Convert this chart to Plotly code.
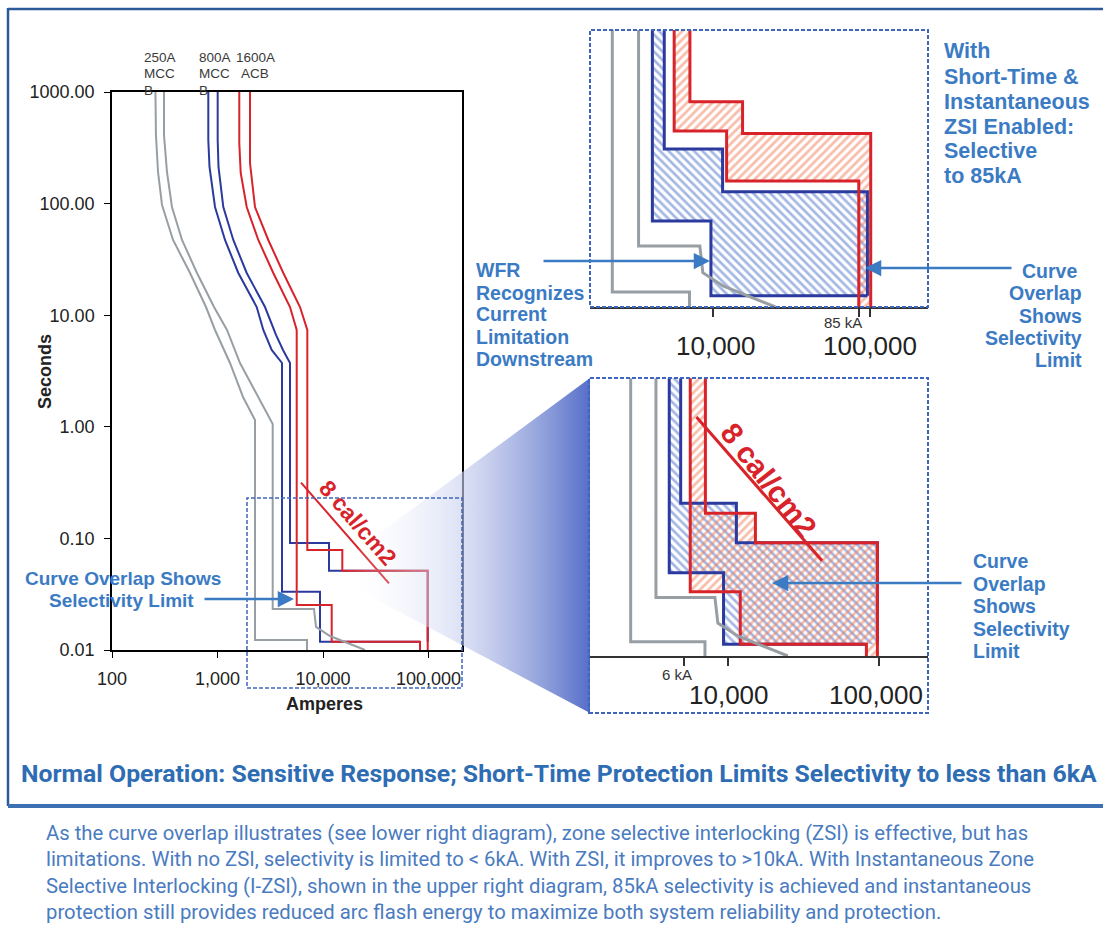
import math
import plotly.graph_objects as go

W, H = 1103, 941


def X(px):
    return px / W


def Y(py):
    return 1 - py / H


# ---------------- data: normal operation (main chart & lower inset) ----------------
g1_amps = [258, 261, 273, 298, 379, 549, 778, 947, 1314, 1745, 2267, 2267, 7053, 7053]
g1_secs = [1000, 412, 192, 97.2, 47.2, 23.9, 11.84, 7.37, 3.73, 1.85, 1.15, 0.0123, 0.0123, 0.01]
g2_amps = [311, 311, 332, 370, 461, 639, 927, 1230, 1634, 2420, 3336, 3336, 8215, 8585, 11650, 16160, 25010]
g2_secs = [1000, 412, 192, 93.2, 47.2, 23.9, 11.84, 7.37, 3.73, 1.85, 1.06, 0.0233, 0.0233, 0.0161, 0.01335, 0.0118, 0.01]
b1_amps = [818, 818, 840, 947, 1178, 1575, 2353, 2718, 3263, 4087, 4087, 9367, 9367, 83060]
b1_secs = [1000, 371.5, 213, 93.2, 47.2, 23.9, 11.84, 7.37, 4.88, 3.73, 0.0333, 0.0333, 0.01187, 0.01187]
b2_amps = [1004, 1004, 1022, 1135, 1412, 1892, 2820, 3585, 4177, 4867, 4867, 11400, 11400, 98260, 98260]
b2_secs = [1000, 371.5, 213, 93.2, 47.2, 23.9, 11.84, 6.65, 4.88, 3.73, 0.091, 0.091, 0.0513, 0.0513, 0.01187]
r1_amps = [1609, 1609, 1659, 1892, 2436, 3380, 4867, 5632, 5632, 12090, 12090, 83060, 83060]
r1_secs = [1000, 349, 188, 93.2, 47.2, 23.9, 11.84, 7.37, 0.0253, 0.0253, 0.01187, 0.01187, 0.01]
r2_amps = [2033, 2033, 2267, 3030, 4205, 6053, 7100, 7100, 15240, 15240, 98260, 98260]
r2_secs = [1000, 231, 93.2, 47.2, 23.9, 11.84, 7.37, 0.0787, 0.0787, 0.0513, 0.0513, 0.01]

# 8 cal/cm2 arc-flash boundary
cal_amps = [6190, 42200]
cal_secs = [0.316, 0.0396]

# ---------------- data: short-time & instantaneous ZSI enabled (upper inset) ----------------
b1z_amps = [4087, 4087, 9670, 9670, 96600]
b1z_secs = [3.73, 0.033, 0.033, 0.0117, 0.0117]
b2z_amps = [4867, 4867, 11480, 11480, 96600, 96600]
b2z_secs = [3.73, 0.0895, 0.0895, 0.0495, 0.0495, 0.0117]
r1z_amps = [5632, 5632, 12180, 12180, 85100, 85100]
r1z_secs = [7.37, 0.115, 0.115, 0.0574, 0.0574, 0.01]
r2z_amps = [7100, 7100, 15400, 15400, 101400, 101400]
r2z_secs = [7.37, 0.1725, 0.1725, 0.111, 0.111, 0.01]

# ---------------- ticks ----------------
x_ticks = [100, 1000, 10000, 100000]
x_tick_text = ["100", "1,000", "10,000", "100,000"]
y_ticks = [0.01, 0.1, 1, 10, 100, 1000]
y_tick_text = ["0.01", "0.10", "1.00", "10.00", "100.00", "1000.00"]
top_ticks = [10000, 85000, 100000]
low_ticks = [5150, 10000, 100000]

device_labels = ["250A", "MCC", "B", "800A", "MCC", "B", "1600A", "ACB"]

body_lines = [
    "As the curve overlap illustrates (see lower right diagram), zone selective interlocking (ZSI) is effective, but has",
    "limitations. With no ZSI, selectivity is limited to &lt; 6kA. With ZSI, it improves to &gt;10kA. With Instantaneous Zone",
    "Selective Interlocking (I-ZSI), shown in the upper right diagram, 85kA selectivity is achieved and instantaneous",
    "protection still provides reduced arc flash energy to maximize both system reliability and protection.",
]
title_text = "Normal Operation: Sensitive Response; Short-Time Protection Limits Selectivity to less than 6kA"

# ---------------- styles ----------------
GRAY = "#989fa4"
BLUE = "#2b3a9f"
RED = "#d8232a"
HATCH_B = "#4a6fca"
HATCH_R = "#f27a52"
TXT_BLUE = "#3b7bc4"
FONT = "Liberation Sans, Arial, sans-serif"

fig = go.Figure()


def add_line(xs, ys, color, width, ax):
    fig.add_trace(go.Scatter(
        x=xs, y=ys, mode="lines", line=dict(color=color, width=width),
        xaxis="x" + ax, yaxis="y" + ax, showlegend=False, hoverinfo="skip"))


def add_band(x1, y1, x2, y2, shape, color, ax, size=6):
    fig.add_trace(go.Scatter(
        x=list(x1) + list(x2)[::-1], y=list(y1) + list(y2)[::-1],
        mode="lines", line=dict(width=0, color="rgba(0,0,0,0)"), fill="toself",
        fillcolor="rgba(0,0,0,0)",
        fillpattern=dict(shape=shape, fgcolor=color, bgcolor="rgba(0,0,0,0)", size=size, solidity=0.45),
        xaxis="x" + ax, yaxis="y" + ax, showlegend=False, hoverinfo="skip"))


# ---- main chart (x / y) ----
add_line(b1_amps, b1_secs, BLUE, 2, "")
add_line(b2_amps, b2_secs, BLUE, 2, "")
add_line(r1_amps, r1_secs, RED, 2, "")
add_line(r2_amps, r2_secs, RED, 2, "")
add_line(g1_amps, g1_secs, GRAY, 2, "")
add_line(g2_amps, g2_secs, GRAY, 2, "")
add_line(cal_amps, cal_secs, RED, 2, "")

# ---- upper inset (x2 / y2): ZSI enabled ----
add_band(b1z_amps, b1z_secs, b2z_amps, b2z_secs, "\\", HATCH_B, "2")
add_band(r1z_amps, r1z_secs, r2z_amps, r2z_secs, "/", HATCH_R, "2")
add_line(b1z_amps, b1z_secs, BLUE, 3, "2")
add_line(b2z_amps, b2z_secs, BLUE, 3, "2")
add_line(r1z_amps, r1z_secs, RED, 3, "2")
add_line(r2z_amps, r2z_secs, RED, 3, "2")
add_line(g1_amps, g1_secs, GRAY, 3, "2")
add_line(g2_amps, g2_secs, GRAY, 3, "2")

# ---- lower inset (x3 / y3): normal operation zoom ----
add_band(b1_amps, b1_secs, b2_amps, b2_secs, "\\", HATCH_B, "3")
add_band(r1_amps, r1_secs, r2_amps, r2_secs, "/", HATCH_R, "3")
add_line(b1_amps, b1_secs, BLUE, 3, "3")
add_line(b2_amps, b2_secs, BLUE, 3, "3")
add_line(r1_amps, r1_secs, RED, 3, "3")
add_line(r2_amps, r2_secs, RED, 3, "3")
add_line(g1_amps, g1_secs, GRAY, 3, "3")
add_line(g2_amps, g2_secs, GRAY, 3, "3")
add_line(cal_amps, cal_secs, RED, 3, "3")

# ---- zoom wedge with gradient (overlay pixel axes x4 / y4) ----
fig.add_trace(go.Scatter(
    x=[343, 590, 590, 343, 343], y=[560, 378, 713, 582, 560], mode="lines",
    line=dict(width=0, color="rgba(0,0,0,0)"), fill="toself",
    fillgradient=dict(type="horizontal", colorscale=[
        [0, "rgba(255,255,255,0)"], [0.45, "rgba(205,212,240,0.6)"], [1, "rgba(85,110,200,1)"]]),
    xaxis="x4", yaxis="y4", showlegend=False, hoverinfo="skip"))

axis_common = dict(showgrid=False, zeroline=False, automargin=False)
fig.update_layout(
    width=W, height=H, autosize=False,
    margin=dict(l=0, r=0, t=0, b=0, pad=0, autoexpand=False),
    paper_bgcolor="white", plot_bgcolor="rgba(0,0,0,0)", showlegend=False,
    xaxis=dict(type="log", range=[2, 5.3175], domain=[X(112), X(462)], anchor="y",
               tickvals=x_ticks, ticktext=x_tick_text, ticks="outside", ticklen=6, tickwidth=1.2,
               tickcolor="black", showline=True, linecolor="black", linewidth=1.5, mirror=True,
               tickfont=dict(family=FONT, size=18, color="#222"), ticklabelstandoff=6, **axis_common),
    yaxis=dict(type="log", range=[-2, 3], domain=[Y(650), Y(92)], anchor="x",
               tickvals=y_ticks, ticktext=y_tick_text, ticks="outside", ticklen=6, tickwidth=1.2,
               tickcolor="black", showline=True, linecolor="black", linewidth=1.5, mirror=True,
               tickfont=dict(family=FONT, size=18, color="#222"), ticklabelstandoff=6, **axis_common),
    xaxis2=dict(type="log", range=[3.213, 5.372], domain=[X(590), X(928)], anchor="y2",
                tickvals=top_ticks, showticklabels=False, ticks="outside", ticklen=8, tickwidth=1.5,
                tickcolor="#333", showline=True, linecolor="#333", linewidth=2, **axis_common),
    yaxis2=dict(type="log", range=[-2, -0.331], domain=[Y(307), Y(30)], anchor="x2", visible=False,
                automargin=False),
    xaxis3=dict(type="log", range=[3.079, 5.328], domain=[X(589), X(928)], anchor="y3",
                tickvals=low_ticks, showticklabels=False, ticks="outside", ticklen=8, tickwidth=1.5,
                tickcolor="#333", showline=True, linecolor="#333", linewidth=2, **axis_common),
    yaxis3=dict(type="log", range=[-2, -0.257], domain=[Y(656), Y(378.3)], anchor="x3", visible=False,
                automargin=False),
    xaxis4=dict(range=[0, W], domain=[0, 1], anchor="y4", visible=False, automargin=False),
    yaxis4=dict(range=[H, 0], domain=[0, 1], anchor="x4", visible=False, automargin=False),
)

# ---------------- shapes ----------------
shapes = []
DASH = "4px,2px"
for (x0, y0, x1, y1, w) in [(247, 498, 462, 688, 1.5), (590, 30, 928, 307, 2), (589, 378, 928, 713, 2)]:
    shapes.append(dict(type="rect", xref="paper", yref="paper", x0=X(x0), x1=X(x1), y0=Y(y1), y1=Y(y0),
                       line=dict(color="#3f66bf", width=w, dash=DASH), fillcolor="rgba(0,0,0,0)", layer="above"))
frame = "#2c5a98"
shapes.append(dict(type="line", xref="paper", yref="paper", x0=X(8), x1=1, y0=Y(9), y1=Y(9),
                   line=dict(color=frame, width=2.5)))
shapes.append(dict(type="line", xref="paper", yref="paper", x0=X(8), x1=X(8), y0=Y(8), y1=Y(806),
                   line=dict(color=frame, width=2.5)))
shapes.append(dict(type="line", xref="paper", yref="paper", x0=X(8), x1=1, y0=Y(806), y1=Y(806),
                   line=dict(color="#3d6fb3", width=4)))
fig.update_layout(shapes=shapes)

# ---------------- annotations ----------------
ann = []


def txt(x, y, text, size, color, bold=False, xanchor="center", family=FONT, angle=0, xref="paper", yref="paper"):
    ann.append(dict(x=x, y=y, xref=xref, yref=yref, text=text, showarrow=False, xanchor=xanchor,
                    yanchor="middle", textangle=angle, borderpad=0,
                    font=dict(family=family, size=size, color=color, weight="bold" if bold else "normal")))


def arrow(x_tail, x_tip, y):
    ann.append(dict(x=X(x_tip), y=Y(y), xref="paper", yref="paper", ax=x_tail - x_tip, ay=0,
                    axref="pixel", ayref="pixel", text="", showarrow=True, arrowhead=2, arrowsize=1.3,
                    arrowwidth=2.5, arrowcolor=TXT_BLUE))


# device labels
lab_pos = [(142.7, 57, "left"), (142.7, 73, "left"), (142.7, 90.5, "left"),
           (197.7, 57, "left"), (197.7, 73, "left"), (197.7, 90.5, "left"),
           (255.5, 57, "center"), (254.5, 73, "center")]
for (px, py, anc), t in zip(lab_pos, device_labels):
    txt(X(px), Y(py), t, 13.5, "#3a3a3a", xanchor=anc)

txt(X(45), Y(372), "Seconds", 18, "#222", bold=True, angle=-90)
txt(X(324), Y(704), "Amperes", 18, "#222", bold=True)

# 8 cal/cm2 labels (log axes: annotation positions in log10 units)
txt(math.log10(21470), math.log10(0.1374), "8 cal/cm2", 23, RED, bold=True, angle=49, xref="x", yref="y")
txt(math.log10(18520), math.log10(0.1273), "8 cal/cm2", 30, RED, bold=True, angle=52, xref="x3", yref="y3")

# left callout
txt(X(123), Y(578), "Curve Overlap Shows", 19, TXT_BLUE, bold=True)
txt(X(121.5), Y(600), "Selectivity Limit", 19, TXT_BLUE, bold=True)
arrow(203, 294, 599)

# upper inset tick labels
txt(X(715.8), Y(346), "10,000", 26, "#222")
txt(X(870.5), Y(346), "100,000", 26, "#222")
txt(X(843), Y(322), "85 kA", 15, "#333")
# lower inset tick labels
txt(X(677), Y(674), "6 kA", 15, "#333")
txt(X(728.8), Y(695), "10,000", 26, "#222")
txt(X(875.8), Y(695), "100,000", 26, "#222")

# upper-right title block
for t, py in zip(["With", "Short-Time &amp;", "Instantaneous", "ZSI Enabled:", "Selective", "to 85kA"],
                 [51, 77, 102.5, 127, 151, 176]):
    txt(X(943.3), Y(py), t, 21.5, TXT_BLUE, bold=True, xanchor="left")

# WFR block
for t, py in zip(["WFR", "Recognizes", "Current", "Limitation", "Downstream"], [270, 293, 314, 337, 359]):
    txt(X(475), Y(py), t, 19.5, TXT_BLUE, bold=True, xanchor="left")
arrow(542, 710, 261)

# right block for upper inset
for t, py in zip(["Curve", "Overlap", "Shows", "Selectivity", "Limit"], [271, 293, 315.5, 337.5, 360]):
    txt(X(1083 if t != "Curve" else 1078), Y(py), t, 19.5, TXT_BLUE, bold=True, xanchor="right")
arrow(1013, 865, 268)

# right block for lower inset
for t, py in zip(["Curve", "Overlap", "Shows", "Selectivity", "Limit"], [561, 583.5, 606, 628.5, 651]):
    txt(X(971.7), Y(py), t, 19.5, TXT_BLUE, bold=True, xanchor="left")
arrow(963, 772, 583)

# title and body
txt(X(558.5), Y(773), title_text, 24.8, "#2e6db4", bold=True, family="Roboto, sans-serif")
for t, py in zip(body_lines, [833, 859, 886, 912]):
    txt(X(45), Y(py), t, 20.3, "#4a7bbf", xanchor="left", family="Roboto, sans-serif")

fig.update_layout(annotations=ann)

fig.write_html("out.html", config={"displayModeBar": False},
               post_script="document.body.style.margin='0px';document.body.style.padding='0px';"
                           "document.documentElement.style.overflow='hidden';")
